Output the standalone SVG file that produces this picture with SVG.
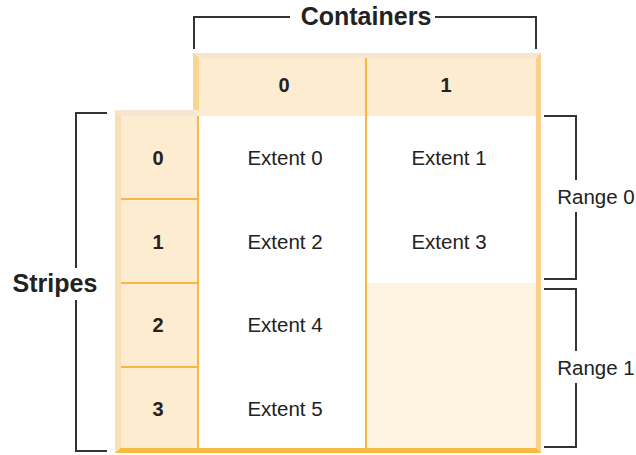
<svg xmlns="http://www.w3.org/2000/svg" width="636" height="455" viewBox="0 0 636 455">
<style>
.lbl{font-family:"Liberation Sans",Arial,sans-serif;font-size:20.5px;fill:#222;text-anchor:middle}
.num{font-family:"Liberation Sans",Arial,sans-serif;font-size:20px;font-weight:bold;fill:#222;text-anchor:middle}
.big{font-family:"Liberation Sans",Arial,sans-serif;font-size:25px;font-weight:bold;fill:#222;text-anchor:middle}
.br{fill:none;stroke:#333;stroke-width:2}
.div{stroke:#f5b843;stroke-width:2}
</style>
<rect width="636" height="455" fill="#fff"/>
<g id="table">
  <rect x="193" y="53" width="348" height="63" fill="#fdecd0"/>
  <polygon points="193,53 541,53 536,58 199,58" fill="#f5e7cf"/>
  <polygon points="193,53 199,58 199,116 193,116" fill="#f8d691"/>
  <polygon points="541,53 536,58 536,116 541,116" fill="#f7d18d"/>
  <rect x="115" y="110" width="84" height="343" fill="#fdecd0"/>
  <polygon points="115,110 193,110 199,116 121,116" fill="#f5e7cf"/>
  <polygon points="115,110 121,116 121,448 115,453" fill="#f7dfb6"/>
  <rect x="199" y="116" width="337" height="332" fill="#fff"/>
  <rect x="367" y="283" width="169" height="165" fill="#fdf5e2"/>
  <rect x="536" y="116" width="5" height="337" fill="#f7d18d"/>
  <polygon points="115,453 121,448 536,448 541,453" fill="#f7b940"/>
  <line class="div" x1="366" y1="58" x2="366" y2="448"/>
  <line class="div" x1="198" y1="116" x2="198" y2="448"/>
  <line class="div" x1="121" y1="199" x2="198" y2="199"/>
  <line class="div" x1="121" y1="283" x2="198" y2="283"/>
  <line class="div" x1="121" y1="367" x2="198" y2="367"/>
</g>
<g id="container-headers">
  <text class="num" x="284" y="92">0</text>
  <text class="num" x="446" y="92">1</text>
</g>
<g id="stripe-headers">
  <text class="num" x="158" y="165">0</text>
  <text class="num" x="158" y="249">1</text>
  <text class="num" x="158" y="332">2</text>
  <text class="num" x="158" y="416">3</text>
</g>
<g id="extents">
  <text class="lbl" x="285" y="165">Extent 0</text>
  <text class="lbl" x="449" y="165">Extent 1</text>
  <text class="lbl" x="285" y="249">Extent 2</text>
  <text class="lbl" x="449" y="249">Extent 3</text>
  <text class="lbl" x="285" y="332">Extent 4</text>
  <text class="lbl" x="285" y="416">Extent 5</text>
</g>
<g id="connectors">
  <polyline class="br" points="194,49 194,17 290,17"/>
  <polyline class="br" points="435,17 536,17 536,49"/>
  <polyline class="br" points="107,113 76,113 76,268"/>
  <polyline class="br" points="76,300 76,451 107,451"/>
  <polyline class="br" points="544,116 576,116 576,180"/>
  <polyline class="br" points="576,212 576,279 544,279"/>
  <polyline class="br" points="544,289 576,289 576,351"/>
  <polyline class="br" points="576,383 576,447 544,447"/>
</g>
<g id="bracket-labels">
  <text class="big" x="366" y="25">Containers</text>
  <text class="big" x="55" y="292">Stripes</text>
  <text class="lbl" x="596" y="204">Range 0</text>
  <text class="lbl" x="596" y="375">Range 1</text>
</g>
</svg>
